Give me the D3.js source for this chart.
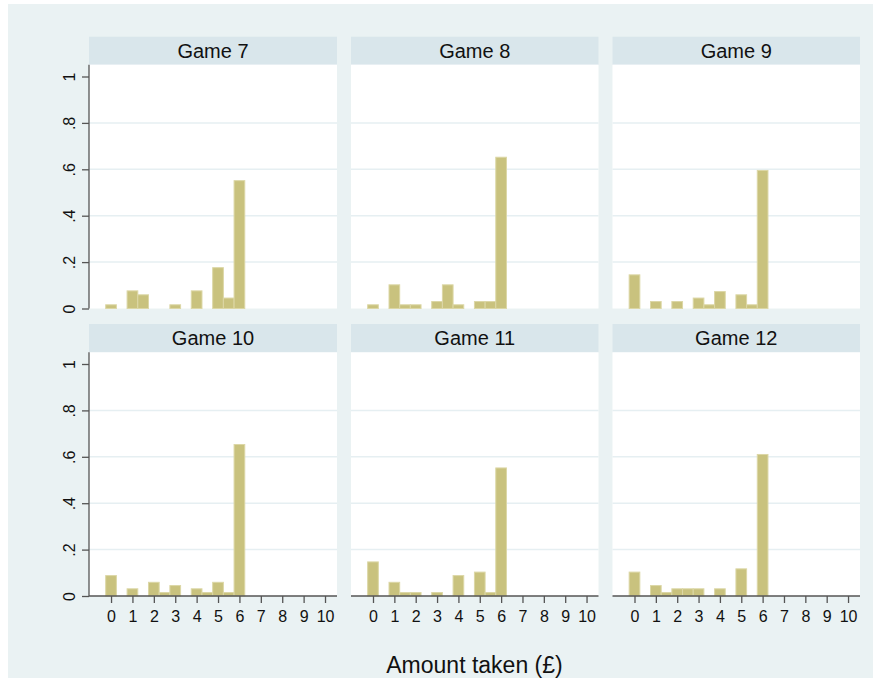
<!DOCTYPE html>
<html><head><meta charset="utf-8">
<script src="https://cdn.jsdelivr.net/npm/d3@7"></script>
<style>body{margin:0;background:#fff}svg{display:block}</style>
</head><body>
<svg id="c" width="877" height="682"></svg>
<script>
const games = ["Game 7","Game 8","Game 9","Game 10","Game 11","Game 12"];
const binCenters = [0,0.5,1,1.5,2,2.5,3,3.5,4,4.5,5,5.5,6];
const game7  = [0.016,0,0.076,0.059,0,0,0.016,0,0.076,0,0.176,0.045,0.551];
const game8  = [0.016,0,0.102,0.016,0.016,0,0.030,0.102,0.016,0,0.030,0.030,0.652];
const game9  = [0.145,0,0.030,0,0.030,0,0.045,0.016,0.073,0,0.059,0.016,0.595];
const game10 = [0.088,0,0.031,0,0.059,0.015,0.045,0,0.031,0.015,0.059,0.015,0.653];
const game11 = [0.147,0,0.059,0.015,0.015,0,0.015,0,0.088,0,0.103,0.015,0.552];
const game12 = [0.103,0,0.045,0.015,0.031,0.031,0.031,0,0.031,0,0.117,0,0.610];
const series = [game7,game8,game9,game10,game11,game12];
const xTicks = [0,1,2,3,4,5,6,7,8,9,10];
const yTicks = [0,0.2,0.4,0.6,0.8,1];
const yTickLabels = ["0",".2",".4",".6",".8","1"];
const xTitle = "Amount taken (£)";
const binWidth = 0.5;

const svg = d3.select("#c");
const font = "'Liberation Sans', Arial, sans-serif";
svg.append("rect").attr("x",0).attr("y",0).attr("width",877).attr("height",682).attr("fill","#fff");
svg.append("rect").attr("x",8).attr("y",4).attr("width",865).attr("height",674).attr("fill","#eaf2f3");

const colX = [[89,337],[351,598.5],[612.5,860]];
const rows = [{hTop:36.7, pTop:64.7, pBot:308.5},{hTop:324, pTop:352.3, pBot:596}];

games.forEach((g,i)=>{
  const r = rows[Math.floor(i/3)], c = colX[i%3];
  const x = d3.scaleLinear().domain([-1.03,10.56]).range(c);
  const y = d3.scaleLinear().domain([0,1]).range([r.pBot, r.pBot-232]);
  const gg = svg.append("g");
  gg.append("rect").attr("x",c[0]).attr("y",r.hTop).attr("width",c[1]-c[0]).attr("height",r.pTop-r.hTop).attr("fill","#d9e6eb");
  gg.append("text").attr("x",(c[0]+c[1])/2).attr("y",(r.hTop+r.pTop)/2+7).attr("text-anchor","middle")
    .attr("font-family",font).attr("font-size",20).attr("fill","#111").text(g);
  gg.append("rect").attr("x",c[0]).attr("y",r.pTop).attr("width",c[1]-c[0]).attr("height",r.pBot-r.pTop).attr("fill","#fff");
  gg.selectAll("line.grid").data(yTicks.filter(t=>t>0 && t<1)).enter().append("line")
    .attr("x1",c[0]).attr("x2",c[1]).attr("y1",d=>y(d)).attr("y2",d=>y(d))
    .attr("stroke","#e6eff2").attr("stroke-width",1.5);
  const data = binCenters.map((b,k)=>({b, v:series[i][k]})).filter(d=>d.v>0);
  gg.selectAll("rect.bar").data(data).enter().append("rect")
    .attr("x",d=>x(d.b-binWidth/2)).attr("width",d=>x(d.b+binWidth/2)-x(d.b-binWidth/2))
    .attr("y",d=>y(d.v)).attr("height",d=>y(0)-y(d.v))
    .attr("fill","#c9c27e").attr("stroke","#dcd7a6").attr("stroke-width",1);
  if (i%3===0){
    const ya = gg.append("g").attr("transform",`translate(${c[0]},0)`)
      .call(d3.axisLeft(y).tickValues(yTicks).tickFormat((d,k)=>yTickLabels[k]).tickSize(7).tickPadding(6));
    ya.select(".domain").attr("d",`M0,${r.pTop}V${r.pBot}`).attr("stroke","#555").attr("stroke-width",1.3);
    ya.selectAll(".tick line").attr("stroke","#555").attr("stroke-width",1.3);
    ya.selectAll(".tick text").attr("font-family",font).attr("font-size",16).attr("fill","#111")
      .attr("text-anchor","middle").attr("x",0).attr("y",0).attr("dy","0.35em")
      .attr("transform","translate(-20,0) rotate(-90)");
  }
  if (Math.floor(i/3)===1){
    const xa = gg.append("g").attr("transform",`translate(0,${r.pBot})`)
      .call(d3.axisBottom(x).tickValues(xTicks).tickFormat(d3.format("d")).tickSize(7).tickPadding(8));
    xa.select(".domain").attr("d",`M${c[0]},0H${c[1]}`).attr("stroke","#555").attr("stroke-width",1.3);
    xa.selectAll(".tick line").attr("stroke","#555").attr("stroke-width",1.3);
    xa.selectAll(".tick text").attr("font-family",font).attr("font-size",16).attr("fill","#111");
  }
});
svg.append("text").attr("x",474.5).attr("y",673).attr("text-anchor","middle")
  .attr("font-family",font).attr("font-size",23).attr("fill","#111").text(xTitle);
</script>
</body></html>
